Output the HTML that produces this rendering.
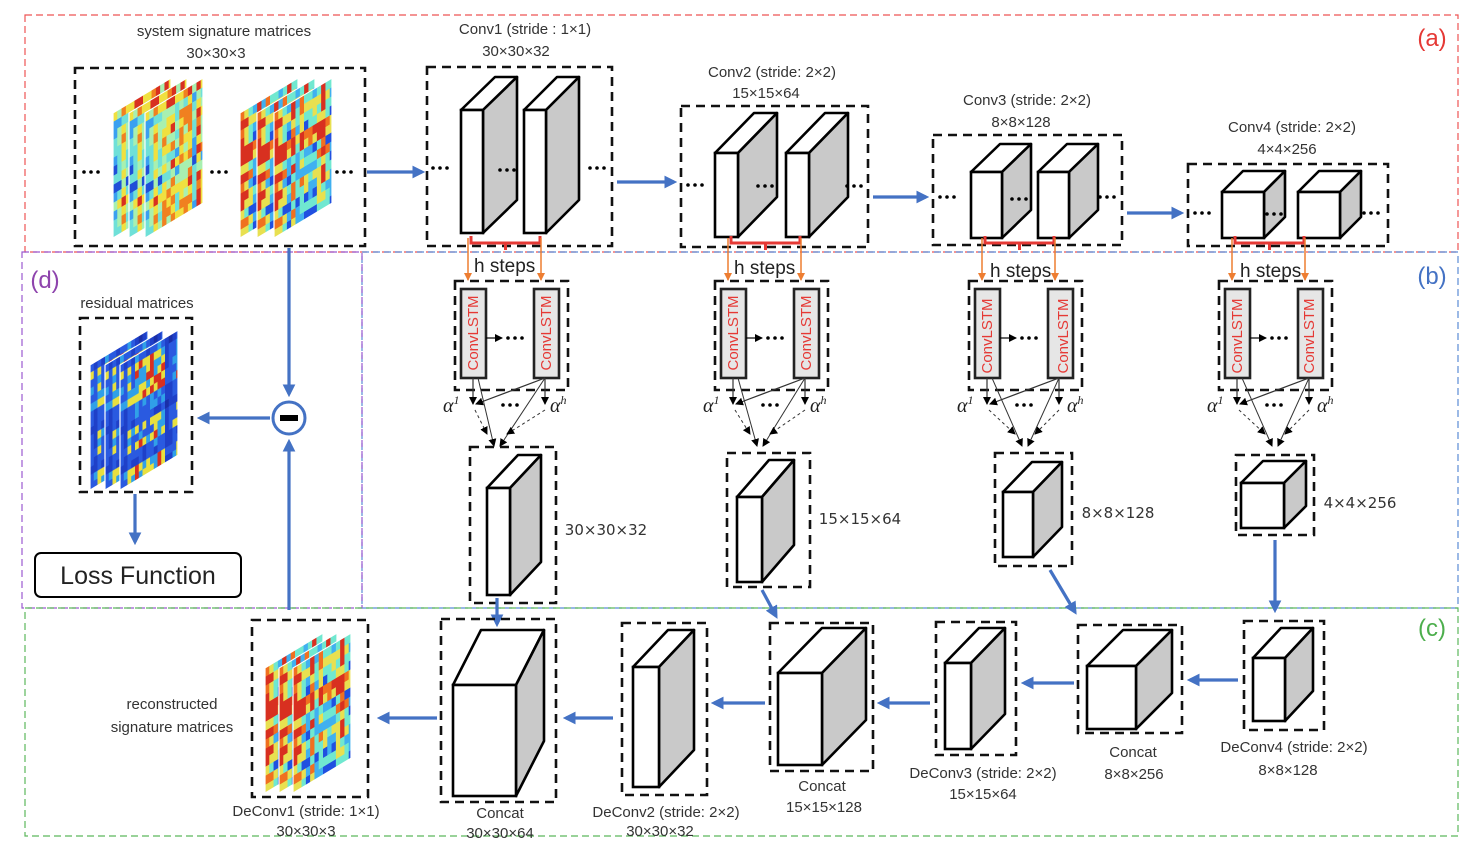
<!DOCTYPE html>
<html><head><meta charset="utf-8"><style>
html,body{margin:0;padding:0;background:#fff;}
svg{display:block;font-family:"Liberation Sans",sans-serif;}
.t{font-size:15px;fill:#333;text-anchor:middle;}
</style></head><body>
<svg id="s" width="1479" height="848" viewBox="0 0 1479 848" xmlns="http://www.w3.org/2000/svg">
<defs>
<marker id="ab" markerWidth="4" markerHeight="4" refX="3" refY="2" orient="auto" markerUnits="strokeWidth"><path d="M0,0 L4,2 L0,4 Z" fill="#4472c4"/></marker>
<marker id="ao" markerWidth="8" markerHeight="8" refX="7" refY="4" orient="auto" markerUnits="userSpaceOnUse"><path d="M0,0 L8,4 L0,8 Z" fill="#ed7d31"/></marker>
<marker id="ak" markerWidth="8" markerHeight="8" refX="7" refY="4" orient="auto" markerUnits="userSpaceOnUse"><path d="M0,0 L8,4 L0,8 Z" fill="#000"/></marker>
</defs>
<rect x="25" y="15" width="1433" height="237" fill="none" stroke="#e55" stroke-width="1.2" stroke-dasharray="7,4"/>
<rect x="362" y="252" width="1096" height="356" fill="none" stroke="#5b8bd6" stroke-width="1.2" stroke-dasharray="7,4"/>
<rect x="22" y="252" width="340" height="356" fill="none" stroke="#9b59d0" stroke-width="1.2" stroke-dasharray="7,4"/>
<rect x="25" y="608" width="1433" height="228" fill="none" stroke="#5cb85c" stroke-width="1.2" stroke-dasharray="7,4"/>
<g id="g"></g>
<text x="1432" y="46" font-size="24" fill="#e53935" text-anchor="middle">(a)</text>
<text x="1432" y="284" font-size="24" fill="#4472c4" text-anchor="middle">(b)</text>
<text x="45" y="288" font-size="24" fill="#8e44ad" text-anchor="middle">(d)</text>
<text x="1432" y="636" font-size="24" fill="#4cae4c" text-anchor="middle">(c)</text>

<text class="t" x="224" y="36">system signature matrices</text>
<text class="t" x="216" y="58">30×30×3</text>
<text class="t" x="525" y="34">Conv1 (stride : 1×1)</text>
<text class="t" x="516" y="56">30×30×32</text>
<text class="t" x="772" y="77">Conv2 (stride: 2×2)</text>
<text class="t" x="766" y="98">15×15×64</text>
<text class="t" x="1027" y="105">Conv3 (stride: 2×2)</text>
<text class="t" x="1021" y="127">8×8×128</text>
<text class="t" x="1292" y="132">Conv4 (stride: 2×2)</text>
<text class="t" x="1287" y="154">4×4×256</text>

<text class="t" x="137" y="308">residual matrices</text>
<rect x="35" y="553" width="206" height="44" rx="6" fill="#fff" stroke="#000" stroke-width="2"/>
<text x="138" y="584" font-size="25" fill="#222" text-anchor="middle">Loss Function</text>

<g font-family="'DejaVu Sans',sans-serif" font-size="15" fill="#333" text-anchor="middle">
<text x="606" y="535">30×30×32</text>
<text x="860" y="524">15×15×64</text>
<text x="1118" y="518">8×8×128</text>
<text x="1360" y="508">4×4×256</text>
</g>

<text class="t" x="172" y="709">reconstructed</text>
<text class="t" x="172" y="732">signature matrices</text>
<text class="t" x="306" y="816">DeConv1 (stride: 1×1)</text>
<text class="t" x="306" y="836">30×30×3</text>
<text class="t" x="500" y="818">Concat</text>
<text class="t" x="500" y="838">30×30×64</text>
<text class="t" x="666" y="817">DeConv2 (stride: 2×2)</text>
<text class="t" x="660" y="836">30×30×32</text>
<text class="t" x="822" y="791">Concat</text>
<text class="t" x="824" y="812">15×15×128</text>
<text class="t" x="983" y="778">DeConv3 (stride: 2×2)</text>
<text class="t" x="983" y="799">15×15×64</text>
<text class="t" x="1133" y="757">Concat</text>
<text class="t" x="1134" y="779">8×8×256</text>
<text class="t" x="1294" y="752">DeConv4 (stride: 2×2)</text>
<text class="t" x="1288" y="775">8×8×128</text>

<g font-size="19" fill="#222">
<text x="474" y="272">h steps</text><text x="734" y="274">h steps</text><text x="990" y="277">h steps</text><text x="1240" y="277">h steps</text>
</g>
<g font-family="'Liberation Serif',serif" font-style="italic" font-size="20" fill="#222">
<text x="443" y="412">α<tspan font-size="12" dy="-8">1</tspan></text><text x="550" y="412">α<tspan font-size="12" dy="-8">h</tspan></text>
<text x="703" y="412">α<tspan font-size="12" dy="-8">1</tspan></text><text x="810" y="412">α<tspan font-size="12" dy="-8">h</tspan></text>
<text x="957" y="412">α<tspan font-size="12" dy="-8">1</tspan></text><text x="1067" y="412">α<tspan font-size="12" dy="-8">h</tspan></text>
<text x="1207" y="412">α<tspan font-size="12" dy="-8">1</tspan></text><text x="1317" y="412">α<tspan font-size="12" dy="-8">h</tspan></text>
</g>
<g id="lst" font-size="15" fill="#e53935" text-anchor="middle">
<text transform="translate(478,333) rotate(-90)">ConvLSTM</text><text transform="translate(551,333) rotate(-90)">ConvLSTM</text>
<text transform="translate(738,333) rotate(-90)">ConvLSTM</text><text transform="translate(811,333) rotate(-90)">ConvLSTM</text>
<text transform="translate(992,336) rotate(-90)">ConvLSTM</text><text transform="translate(1068,336) rotate(-90)">ConvLSTM</text>
<text transform="translate(1242,336) rotate(-90)">ConvLSTM</text><text transform="translate(1314,336) rotate(-90)">ConvLSTM</text>
</g>
</svg>
<script>
(function(){
var NS="http://www.w3.org/2000/svg",g=document.getElementById('g'),s=document.getElementById('s');
function el(n,a,p){var e=document.createElementNS(NS,n);for(var k in a)e.setAttribute(k,a[k]);(p||g).appendChild(e);return e;}
var seed=7;function r(){seed=(seed*16807)%2147483647;return seed/2147483647;}
var defs=s.querySelector('defs');
function pat(id,pal,n){var p=el('pattern',{id:id,patternUnits:'userSpaceOnUse',width:60,height:126},defs);
 var cs=60/n,rs=126/n;var col=[],row=[];for(var i=0;i<n;i++){col.push(r());row.push(r());}
 for(var i=0;i<n;i++)for(var j=0;j<n;j++){var v=(col[i]+row[j])/2+ (r()-0.5)*0.3;var c=pal[Math.max(0,Math.min(pal.length-1,Math.floor(v*pal.length)))];
 el('rect',{x:i*cs,y:j*rs,width:cs+0.5,height:rs+0.5,fill:c},p);}}
pat('h1',['#1f4fd8','#3aa0f0','#6fe0d8','#a8f0b0','#f0e040','#f08020','#d83020'],14);
pat('h2',['#2050e0','#40b0f0','#70e8d0','#e8e050','#f07020','#d83020','#d83020'],14);
pat('h3',['#1a2fa8','#1f40c8','#1f40c8','#2a5ae0','#2a5ae0','#30a0e8','#e8e040','#d83020'],16);
function stack(x,y,pid,dx,w,h){for(var i=0;i<3;i++){var gg=el('g',{transform:'translate('+(x+i*dx)+','+y+') skewY(-31)'});
 el('rect',{x:0,y:0,width:w,height:h,fill:'url(#'+pid+')',stroke:'#fff',"stroke-width":1.2},gg);}}
function dbox(x,y,w,h){el('rect',{x:x,y:y,width:w,height:h,fill:'none',stroke:'#111','stroke-width':2.6,'stroke-dasharray':'9,6'});}
function cub(x,y,w,h,R,T){var dx=R-(x+w),dy=y-T;
 el('polygon',{points:[x,y,x+dx,T,R,T,x+w,y].join(','),fill:'#fff',stroke:'#000','stroke-width':2.6,'stroke-linejoin':'round'});
 el('polygon',{points:[x+w,y,R,T,R,y+h-dy,x+w,y+h].join(','),fill:'#c9c9c9',stroke:'#000','stroke-width':2.6,'stroke-linejoin':'round'});
 el('rect',{x:x,y:y,width:w,height:h,fill:'#fff',stroke:'#000','stroke-width':2.6});}
function dots(x,y,n){for(var i=0;i<(n||3);i++)el('circle',{cx:x+i*7,cy:y,r:1.8,fill:'#000'});}
function ba(x1,y1,x2,y2){el('line',{x1:x1,y1:y1,x2:x2,y2:y2,stroke:'#4472c4','stroke-width':3.2,'marker-end':'url(#ab)'});}
dbox(75,68,290,178);stack(113,113,'h1',16,58,125);stack(240,113,'h2',17,58,125);
dots(84,172);dots(212,172);dots(337,172);
dbox(427,67,185,179);cub(461,110,22,123,517,77);cub(524,110,22,123,579,77);dots(433,168);dots(500,170);dots(590,168);
dbox(681,106,187,141);cub(715,153,23,84,777,113);cub(786,153,23,84,848,113);dots(688,185);dots(758,186);dots(847,186);
dbox(933,135,189,110);cub(971,172,31,66,1031,144);cub(1038,172,31,66,1098,144);dots(940,197);dots(1012,199);dots(1100,197);
dbox(1188,164,200,82);cub(1222,192,42,46,1285,171);cub(1298,192,42,46,1361,171);dots(1195,213);dots(1267,214);dots(1364,213);
ba(367,172,422,172);ba(617,182,674,182);ba(873,197,926,197);ba(1127,213,1181,213);
var cols=[[0,497,[470,447,86,156],[487,488,23,107,541,455]],[260,760,[727,453,83,134],[737,497,25,85,794,460]],[514,1025,[995,453,77,113],[1003,492,30,65,1062,462]],[764,1275,[1236,455,78,80],[1241,483,43,45,1306,461]]];
cols.forEach(function(c){var o=c[0],tx=c[1];var a=471+o,b=540+o;
 el('polyline',{points:[a,236,a,243,b,243,b,236].join(','),fill:'none',stroke:'#e53935','stroke-width':3});
 el('line',{x1:(a+b)/2,y1:243,x2:(a+b)/2,y2:250,stroke:'#e53935','stroke-width':3});
 el('line',{x1:468+o,y1:238,x2:468+o,y2:280,stroke:'#ed7d31','stroke-width':1.5,'marker-end':'url(#ao)'});
 el('line',{x1:541+o,y1:238,x2:541+o,y2:280,stroke:'#ed7d31','stroke-width':1.5,'marker-end':'url(#ao)'});
 dbox(455+o,281,113,109);
 el('rect',{x:461+o,y:289,width:25,height:89,fill:'#e6e6e6',stroke:'#222','stroke-width':2.6});
 el('rect',{x:534+o,y:289,width:25,height:89,fill:'#e6e6e6',stroke:'#222','stroke-width':2.6});
 el('line',{x1:486+o,y1:338,x2:502+o,y2:338,stroke:'#000','stroke-width':1.2,'marker-end':'url(#ak)'});dots(508+o,338);
 el('line',{x1:473+o,y1:378,x2:473+o,y2:404,stroke:'#333','stroke-width':1.2,'marker-end':'url(#ak)'});
 el('line',{x1:545+o,y1:378,x2:545+o,y2:404,stroke:'#333','stroke-width':1.2,'marker-end':'url(#ak)'});
 el('line',{x1:545+o,y1:378,x2:476+o,y2:404,stroke:'#333','stroke-width':1.2,'marker-end':'url(#ak)'});
 dots(503+o,405);
 el('line',{x1:478+o,y1:378,x2:tx-3,y2:446,stroke:'#333','stroke-width':1,'marker-end':'url(#ak)'});
 el('line',{x1:545+o,y1:378,x2:tx+3,y2:446,stroke:'#333','stroke-width':1,'marker-end':'url(#ak)'});
 el('line',{x1:475+o,y1:410,x2:tx-10,y2:434,stroke:'#333','stroke-width':1,'stroke-dasharray':'3,3','marker-end':'url(#ak)'});
 el('line',{x1:545+o,y1:410,x2:tx+10,y2:434,stroke:'#333','stroke-width':1,'stroke-dasharray':'3,3','marker-end':'url(#ak)'});
 var B=c[2];dbox(B[0],B[1],B[2],B[3]);var C=c[3];cub(C[0],C[1],C[2],C[3],C[4],C[5]);
});
dbox(80,318,112,174);stack(90,365,'h3',15,58,125);
el('circle',{cx:289,cy:418,r:16,fill:'#fff',stroke:'#4472c4','stroke-width':3});
el('rect',{x:280,y:415,width:18,height:6,fill:'#000'});
ba(289,248,289,394);ba(289,610,289,442);ba(270,418,200,418);ba(135,494,135,542);
ba(497,598,497,624);ba(762,590,776,616);ba(1050,570,1075,612);ba(1275,540,1275,610);
dbox(252,620,116,177);stack(265,668,'h2',14,58,125);
dbox(441,619,115,183);cub(453,685,63,111,544,630);
dbox(622,623,85,172);cub(633,667,26,120,694,630);
dbox(770,623,103,148);cub(778,673,44,92,866,628);
dbox(936,622,80,133);cub(945,663,26,86,1005,628);
dbox(1078,625,104,108);cub(1087,666,49,63,1172,630);
dbox(1244,621,80,109);cub(1253,658,32,63,1313,628);
ba(1238,680,1190,680);ba(1074,683,1024,683);ba(930,703,880,703);ba(765,703,714,703);ba(613,718,566,718);ba(437,718,380,718);
})();
</script>
</body></html>
